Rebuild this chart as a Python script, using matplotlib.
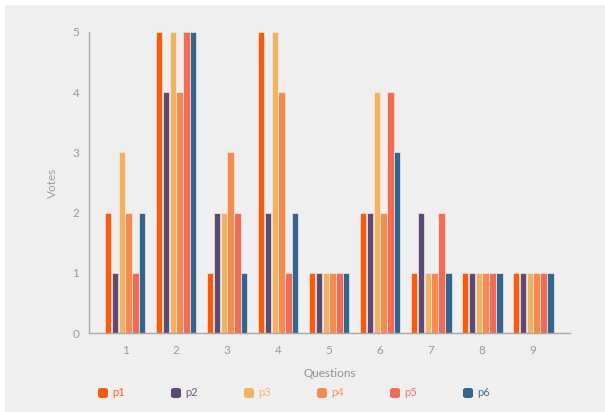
import numpy as np
import matplotlib.pyplot as plt
from matplotlib.patches import FancyBboxPatch, Rectangle

plt.rcParams['font.family'] = ['Lato', 'DejaVu Sans']

questions = [1, 2, 3, 4, 5, 6, 7, 8, 9]
series_names = ["p1", "p2", "p3", "p4", "p5", "p6"]
p1 = [2, 5, 1, 5, 1, 2, 1, 1, 1]
p2 = [1, 4, 2, 2, 1, 2, 2, 1, 1]
p3 = [3, 5, 2, 5, 1, 4, 1, 1, 1]
p4 = [2, 4, 3, 4, 1, 2, 1, 1, 1]
p5 = [1, 5, 2, 1, 1, 4, 2, 1, 1]
p6 = [2, 5, 1, 2, 1, 3, 1, 1, 1]
colors = ["#fa5a0a", "#5b4a75", "#f2b360", "#f58b4f", "#f26b55", "#33668f"]

W, H = 605, 412
fig = plt.figure(figsize=(W / 100, H / 100), dpi=100, facecolor="white")
# grey card behind the chart
fig.add_artist(Rectangle((5 / W, 0), 1, 1 - 5 / H, transform=fig.transFigure,
                         facecolor="#efefef", edgecolor="none", zorder=0))

ax = fig.add_axes([89 / W, 1 - 333 / H, (570 - 89) / W, (333 - 32) / H])
ax.set_facecolor("none")

x = np.array(questions)
bw = 0.125
data = [p1, p2, p3, p4, p5, p6]
for i, (vals, c) in enumerate(zip(data, colors)):
    ax.bar(x + (i - 2.5) * bw * 1.07, vals, width=bw, color=c,
           edgecolor="#f6e8e0", linewidth=0.5)

ax.set_xlim(0.29, 9.72)
ax.set_ylim(0, 5)
ax.set_xticks(questions)
ax.set_yticks(range(6))
ax.tick_params(length=0, colors="#9a9a9a", labelsize=8.5)
ax.tick_params(axis="y", pad=7)
ax.tick_params(axis="x", pad=9)
for s in ["top", "right"]:
    ax.spines[s].set_visible(False)
for s in ["left", "bottom"]:
    ax.spines[s].set_color("#a8a8a8")
    ax.spines[s].set_linewidth(1)
ax.set_ylabel("Votes", color="#a0a0a0", fontsize=8.5)
ax.yaxis.set_label_coords(-0.064, 0.5)
ax.set_xlabel("Questions", color="#909090", fontsize=8.5, labelpad=8)

# legend row
for i, (name, c) in enumerate(zip(series_names, colors)):
    lx = 98 + i * 73
    fig.add_artist(FancyBboxPatch((lx / W, 1 - 398 / H), 10 / W, 10 / H,
                                  boxstyle="round,pad=0,rounding_size=0.005",
                                  transform=fig.transFigure, facecolor=c,
                                  edgecolor="none"))
    fig.text((lx + 14) / W, 1 - 393 / H, name, color=c, fontsize=8,
             va="center", ha="left", alpha=0.9)

fig.savefig("out.png", dpi=100, facecolor="white")
